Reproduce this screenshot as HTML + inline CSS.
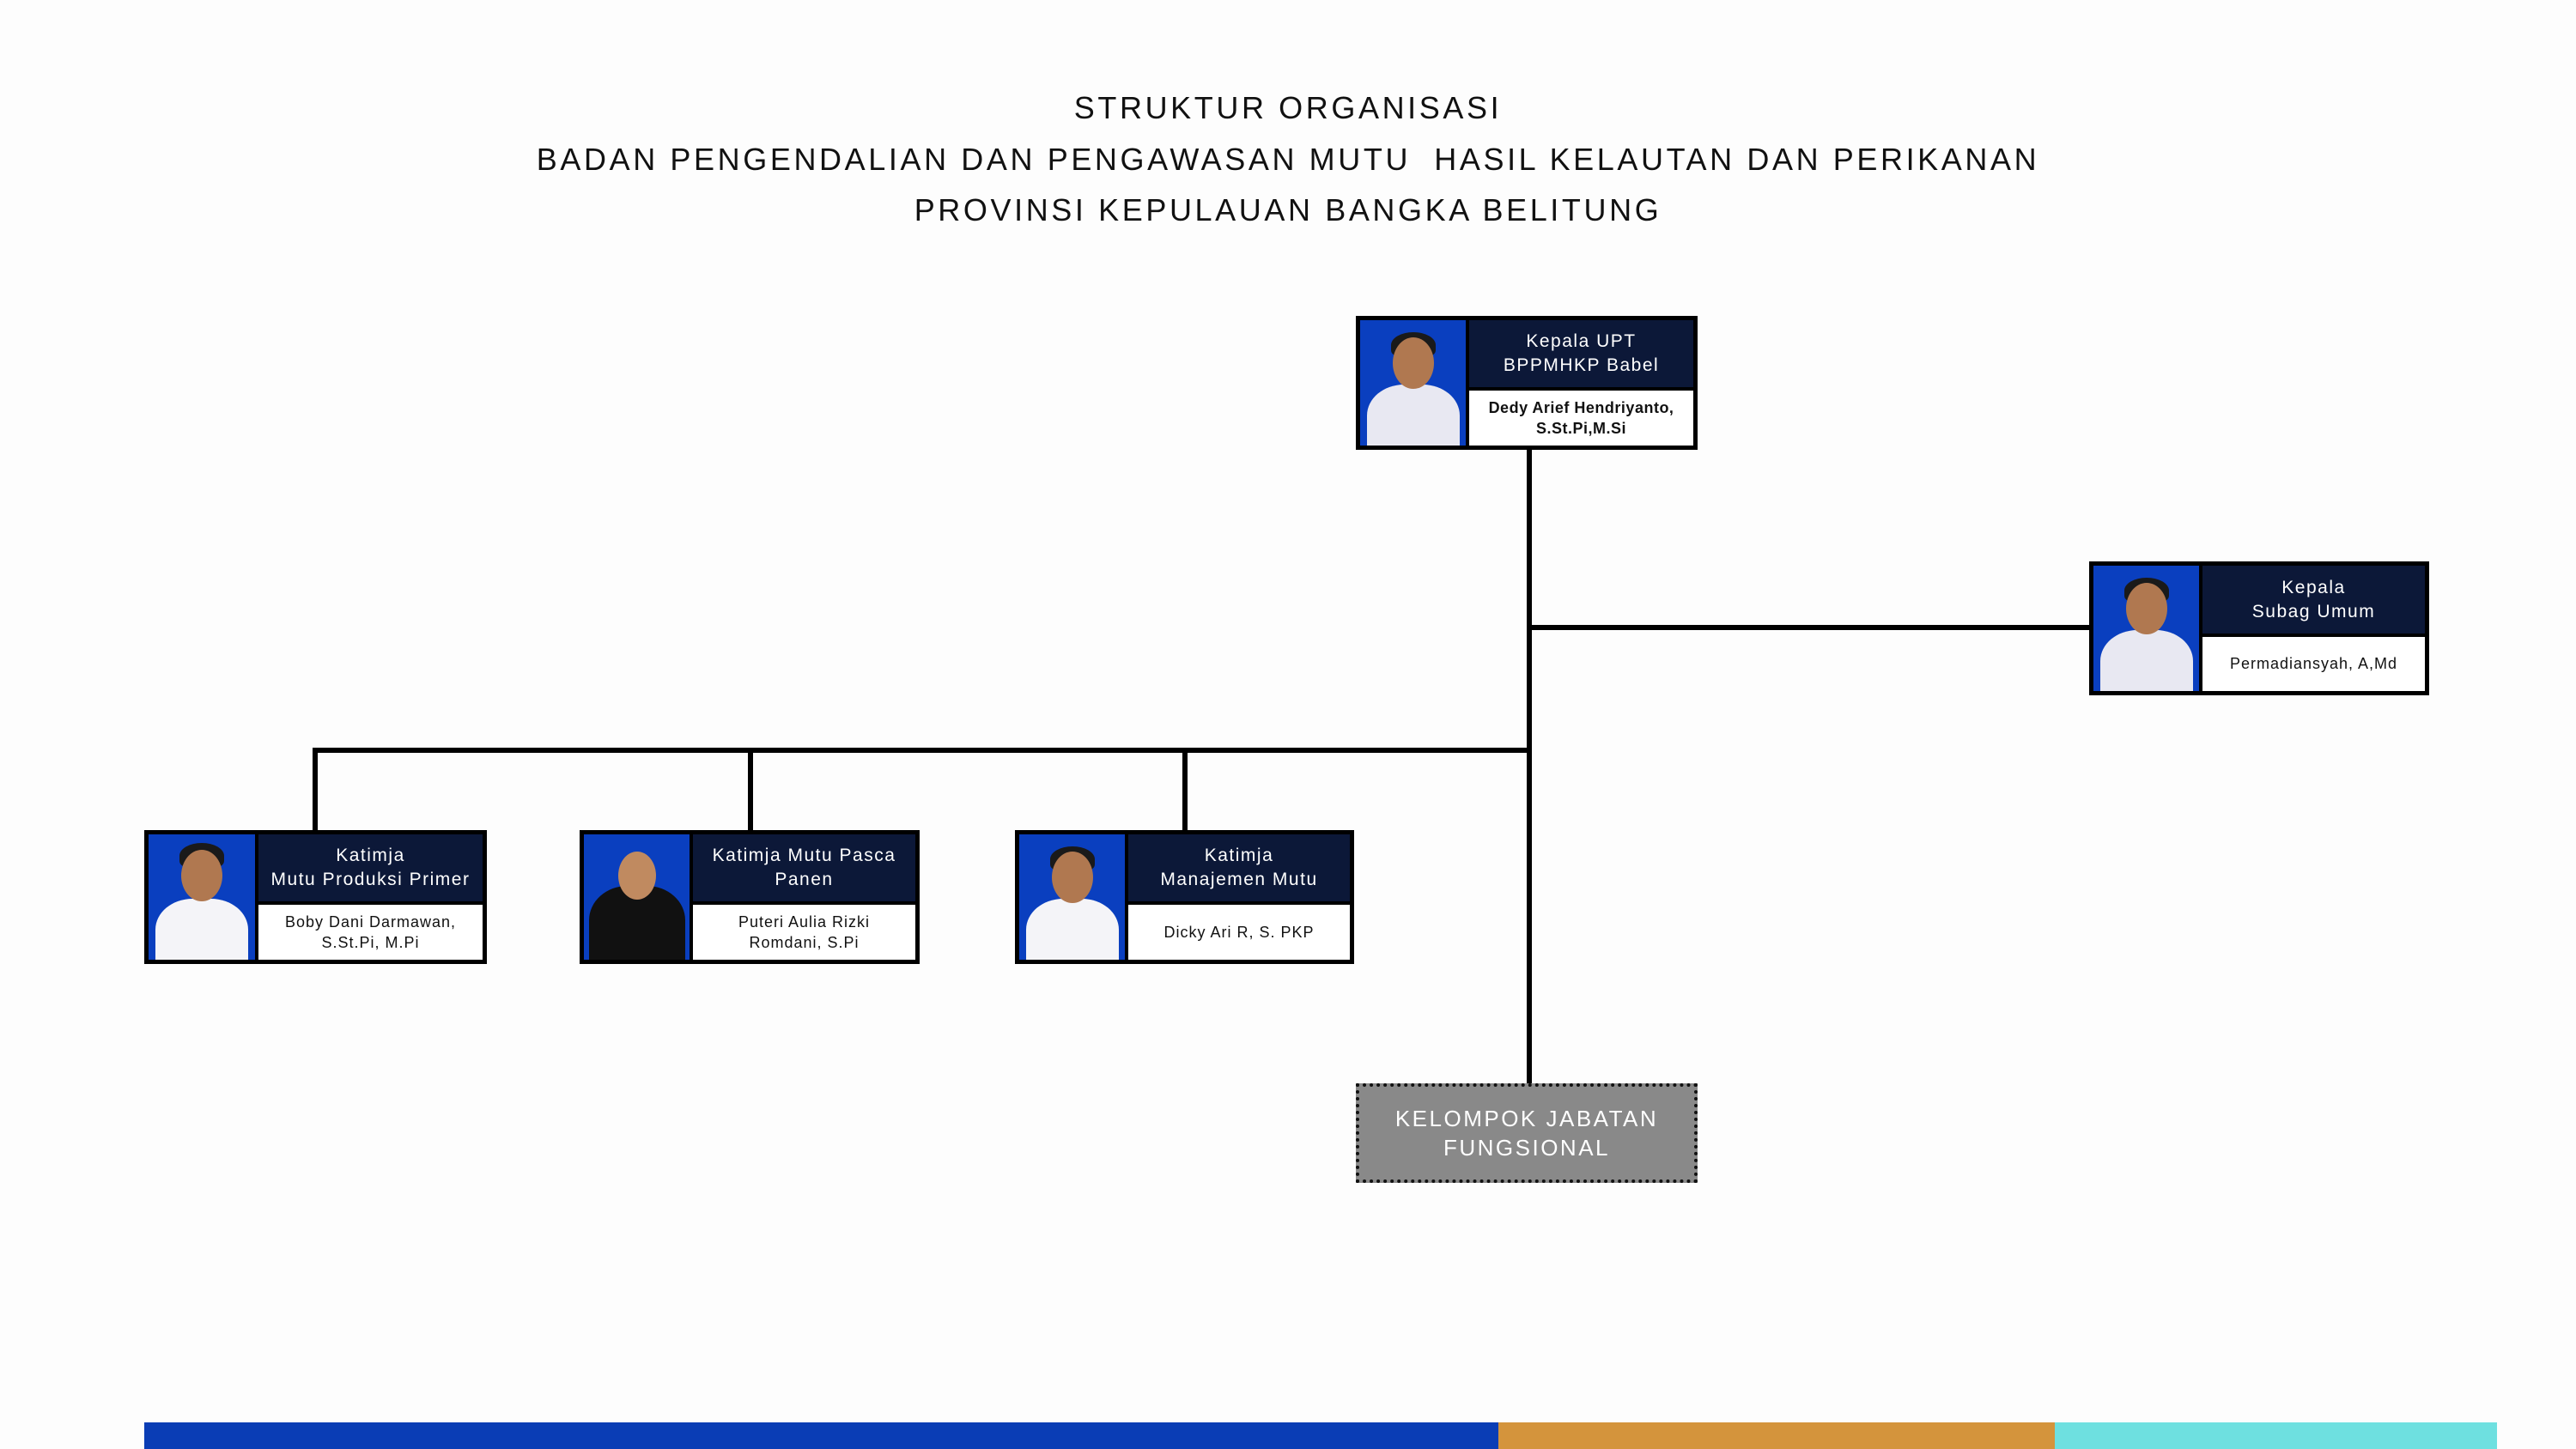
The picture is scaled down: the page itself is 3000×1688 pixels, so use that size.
<!DOCTYPE html>
<html><head><meta charset="utf-8"><style>
*{margin:0;padding:0;box-sizing:border-box}
body{width:3000px;height:1688px;position:relative;background:#fdfdfd;font-family:"Liberation Sans",sans-serif;overflow:hidden}
.t{position:absolute;left:0;width:3000px;text-align:center;font-size:36px;letter-spacing:3.6px;color:#111;line-height:40px}
.ln{position:absolute;background:#000}
.box{position:absolute;border:5px solid #000;background:#fff}
.ph{position:absolute;left:0;top:0;bottom:0;background:#0a3fbf;border-right:4px solid #000;overflow:hidden}
.hd{position:absolute;right:0;top:0;background:#0c1838;color:#fff;font-size:21px;letter-spacing:1.5px;text-align:center;display:flex;align-items:center;justify-content:center;line-height:28px;border-bottom:4px solid #000}
.nm{position:absolute;right:0;bottom:0;color:#111;font-size:18px;letter-spacing:1px;text-align:center;display:flex;align-items:center;justify-content:center;line-height:24px}
.head{position:absolute;border-radius:50%;background:#b07850}
.hair{position:absolute;border-radius:50% 50% 30% 30%;background:#1a1a1a}
.bod{position:absolute;border-radius:40% 40% 0 0;background:#e8e8f2}
.bar{position:absolute;top:1657px;height:31px}
</style></head><body>
<div class="t" style="top:106px">STRUKTUR ORGANISASI</div>
<div class="t" style="top:166px">BADAN PENGENDALIAN DAN PENGAWASAN MUTU&nbsp; HASIL KELAUTAN DAN PERIKANAN</div>
<div class="t" style="top:225px">PROVINSI KEPULAUAN BANGKA BELITUNG</div>

<div class="ln" style="left:1778px;top:524px;width:6px;height:740px"></div>
<div class="ln" style="left:1778px;top:728px;width:656px;height:6px"></div>
<div class="ln" style="left:364px;top:871px;width:1420px;height:6px"></div>
<div class="ln" style="left:364px;top:871px;width:6px;height:98px"></div>
<div class="ln" style="left:871px;top:871px;width:6px;height:98px"></div>
<div class="ln" style="left:1377px;top:871px;width:6px;height:98px"></div>

<div class="box" style="left:1579px;top:368px;width:398px;height:156px">
 <div class="ph" style="width:127px"><div class="bod" style="left:8px;top:75px;width:108px;height:90px"></div><div class="hair" style="left:36px;top:14px;width:52px;height:30px"></div><div class="head" style="left:38px;top:20px;width:48px;height:60px"></div></div>
 <div class="hd" style="left:127px;height:82px">Kepala UPT<br>BPPMHKP Babel</div>
 <div class="nm" style="left:127px;height:64px;font-weight:bold;letter-spacing:0.5px">Dedy Arief Hendriyanto,<br>S.St.Pi,M.Si</div>
</div>
<div class="box" style="left:2433px;top:654px;width:396px;height:156px">
 <div class="ph" style="width:127px"><div class="bod" style="left:8px;top:75px;width:108px;height:90px"></div><div class="hair" style="left:36px;top:14px;width:52px;height:30px"></div><div class="head" style="left:38px;top:20px;width:48px;height:60px"></div></div>
 <div class="hd" style="left:127px;height:83px">Kepala<br>Subag Umum</div>
 <div class="nm" style="left:127px;height:64px">Permadiansyah, A,Md</div>
</div>
<div class="box" style="left:168px;top:967px;width:399px;height:156px">
 <div class="ph" style="width:128px"><div class="bod" style="left:8px;top:75px;width:108px;height:90px;background:#f4f4f8"></div><div class="hair" style="left:36px;top:10px;width:52px;height:30px"></div><div class="head" style="left:38px;top:18px;width:48px;height:60px"></div></div>
 <div class="hd" style="left:128px;height:82px">Katimja<br>Mutu Produksi Primer</div>
 <div class="nm" style="left:128px;height:65px">Boby Dani Darmawan,<br>S.St.Pi, M.Pi</div>
</div>
<div class="box" style="left:675px;top:967px;width:396px;height:156px">
 <div class="ph" style="width:127px"><div class="bod" style="left:6px;top:60px;width:112px;height:100px;background:#111"></div><div class="head" style="left:40px;top:20px;width:44px;height:56px;background:#c08a60"></div></div>
 <div class="hd" style="left:127px;height:82px">Katimja Mutu Pasca<br>Panen</div>
 <div class="nm" style="left:127px;height:65px">Puteri Aulia Rizki<br>Romdani, S.Pi</div>
</div>
<div class="box" style="left:1182px;top:967px;width:395px;height:156px">
 <div class="ph" style="width:127px"><div class="bod" style="left:8px;top:75px;width:108px;height:90px;background:#f4f4f8"></div><div class="hair" style="left:36px;top:14px;width:52px;height:30px"></div><div class="head" style="left:38px;top:20px;width:48px;height:60px"></div></div>
 <div class="hd" style="left:127px;height:82px">Katimja<br>Manajemen Mutu</div>
 <div class="nm" style="left:127px;height:65px">Dicky Ari R, S. PKP</div>
</div>
<div style="position:absolute;left:1579px;top:1262px;width:398px;height:116px;background:#898989;border:4px dotted #111;color:#fff;font-size:26px;letter-spacing:2.5px;text-align:center;display:flex;align-items:center;justify-content:center;line-height:34px">KELOMPOK JABATAN<br>FUNGSIONAL</div>

<div class="bar" style="left:168px;width:1577px;background:#0a3db5"></div>
<div class="bar" style="left:1745px;width:648px;background:#d4943c"></div>
<div class="bar" style="left:2393px;width:515px;background:#6ee0e0"></div>
</body></html>
